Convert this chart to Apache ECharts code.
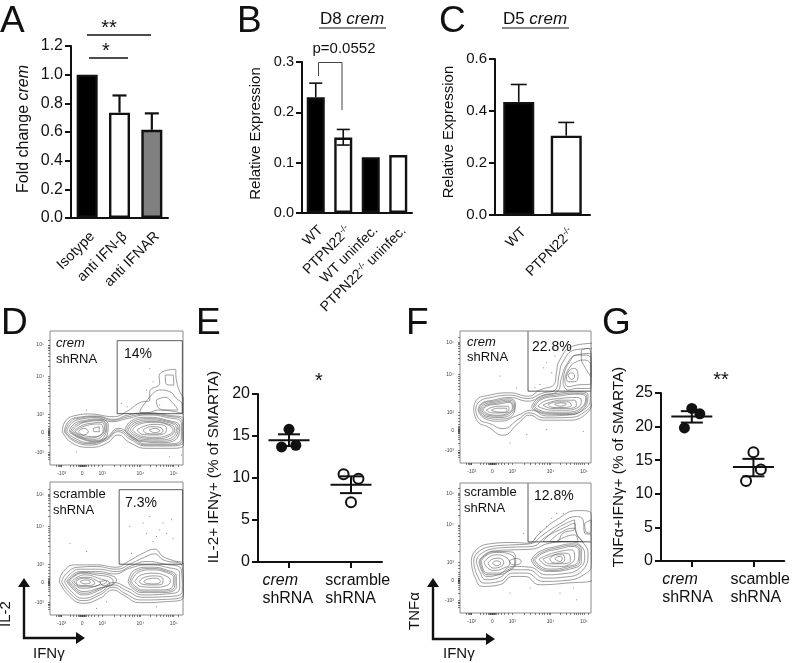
<!DOCTYPE html>
<html>
<head>
<meta charset="utf-8">
<title>crem expression</title>
<script src="https://cdn.jsdelivr.net/npm/echarts@6/dist/echarts.min.js"></script>
<style>
  html, body { margin: 0; padding: 0; background: #fff; }
  #main { width: 793px; height: 663px; }
</style>
</head>
<body>
<div id="main"></div>
<script>
// panel A
var catsA = ['Isotype', 'anti IFN-β', 'anti IFNAR'];
var valsA = [1.0, 0.735, 0.615];
var topsA = [1.0, 0.855, 0.73];

// panel B
var catsB = ['WT', 'PTPN22-/-', 'WT uninfec.', 'PTPN22-/- uninfec.'];
var valsB = [0.23, 0.15, 0.111, 0.115];
var topsB = [0.258, 0.166, 0.111, 0.115];
var lowsB = [0.23, 0.135, 0.111, 0.115];

// panel C
var catsC = ['WT', 'PTPN22-/-'];
var valsC = [0.435, 0.305];
var topsC = [0.502, 0.356];

// panel E: x slot (jitter around group), percent
var creamE = [[1.0, 15.8], [0.88, 13.7], [1.11, 13.9]];
var scrambleE = [[1.88, 10.45], [2.12, 9.9], [2.0, 7.1]];
var sumE = [[1, 14.5, 13.8, 15.2], [2, 9.2, 8.2, 10.2]];
var groupsE = ['crem', 'scramble'];

// panel G
var creamG = [[1.0, 22.7], [1.13, 21.9], [0.88, 19.8]];
var scrambleG = [[2.0, 16.2], [2.12, 13.6], [1.88, 11.9]];
var sumG = [[1, 21.5, 20.6, 22.3], [2, 14, 12.6, 15.2]];
var groupsG = ['crem', 'scamble'];

// flow plots, contours in display channels (x1,y1,x2,y2,...)
var contoursD1 = [
  [37,100,45,130,75,148,120,153,190,145,230,160,270,187,300,195,300,220,330,245,328,265,355,285,377,287,380,255,390,220,402,195,402,60,360,50,290,50,240,67,205,90,170,65,120,53,65,67],
  [347,270,370,270,372,240,355,240,347,255],
  [305,210,330,225,360,220,380,200,398,180,398,155,330,165,290,157,270,160],
  [320,195,345,203,370,185,385,165,350,165,325,173],
  [43,100,55,130,85,143,140,147,190,137,235,150,290,157,350,150,402,135,402,70,350,57,290,57,245,75,205,100,170,75,120,60,70,73],
  [50,100,65,125,95,138,140,142,185,130,235,140,290,150,350,143,395,125,395,80,350,63,290,63,250,83,205,110,170,83,120,67,75,80],
  [46,100,60,128,90,141,140,145,188,134,235,145,290,153,350,147,398,130,398,75,350,60,290,60,247,79,205,105,170,79,120,64,72,76],
  [57,100,72,123,100,133,145,138,175,120,172,90,140,70,90,80],
  [61,100,78,121,108,131,148,135,171,117,166,90,135,73,90,82],
  [65,100,85,120,115,130,150,133,168,115,160,90,130,77,90,85],
  [70,100,95,118,130,126,155,128,164,110,148,87,115,81,92,87],
  [75,100,105,117,150,123,160,105,135,85,95,90],
  [85,100,102,110,115,100,100,90],
  [130,110,148,115,148,100,132,100],
  [225,105,245,133,290,143,350,135,390,115,385,85,340,67,280,70,245,83],
  [230,105,250,130,295,139,350,132,385,112,380,87,335,71,280,73,247,86],
  [235,105,255,127,300,135,350,129,380,110,375,90,330,75,280,77,250,90],
  [241,105,262,125,305,131,352,124,375,107,365,90,322,79,277,82],
  [248,105,270,123,310,128,355,120,370,105,355,90,315,83,275,87],
  [262,105,285,117,320,122,350,110,345,95,310,90,275,93],
  [280,105,305,115,330,113,340,103,320,93,290,95],
  [298,105,315,110,330,103,315,97]
];
var contoursD2 = [
  [28,100,40,130,75,150,140,150,200,143,235,160,280,185,315,197,340,175,370,163,402,150,402,55,350,40,270,37,220,60,190,75,150,50,100,35,55,60],
  [35,100,50,125,85,143,140,145,200,137,245,155,285,173,315,183,340,165,398,145,402,65,350,47,275,45,225,65,190,83,150,60,100,43,60,65],
  [43,100,60,122,90,137,145,137,200,130,245,147,290,160,340,153,395,135,398,73,350,55,280,53,230,73,190,90,150,67,100,50,65,70],
  [50,100,68,120,95,130,145,130,195,123,240,140,295,150,350,143,390,125,390,80,350,63,280,60,235,80,190,97,150,75,100,60,70,77],
  [54,100,72,118,98,127,142,125,190,116,200,105,147,78,100,65,72,80],
  [58,100,75,117,100,125,140,120,185,110,190,95,145,80,100,70,75,83],
  [65,100,85,115,110,120,145,110,170,100,140,87,100,80,78,87],
  [72,100,92,112,115,113,140,103,152,96,122,85,92,85],
  [78,100,100,110,125,105,135,95,105,88,85,90],
  [90,100,108,105,122,98,105,93],
  [150,100,170,103,180,93,160,88],
  [235,100,255,135,300,143,350,135,380,115,380,85,340,67,280,67,245,83],
  [240,100,260,131,302,139,350,131,376,112,375,86,335,71,280,71,250,85],
  [245,100,265,127,305,135,350,127,372,110,370,87,330,75,280,75,255,87],
  [255,100,275,120,310,125,348,117,362,103,350,88,315,83,275,85],
  [268,100,285,113,315,117,340,107,338,93,305,90,278,92],
  [282,100,300,109,320,110,332,100,312,93,290,95]
];
var contoursF1 = [
  [41,158,49,188,89,203,149,210,204,200,239,218,284,238,289,268,299,308,339,350,397,358,397,198,379,148,319,128,249,128,209,143,174,118,129,83,84,108,54,123],
  [47,158,57,183,94,196,149,203,204,193,244,208,289,223,297,263,309,303,344,338,397,343,397,193,374,153,319,136,254,135,209,150,174,130,129,103,89,118,59,130],
  [54,158,64,178,99,188,149,196,204,185,249,203,294,216,304,253,319,293,349,323,393,328,391,193,369,158,317,143,259,141,214,158,174,143,119,125,74,133],
  [57,158,66,176,101,185,149,192,166,178,162,150,119,131,76,137],
  [61,158,69,173,104,182,149,188,164,173,159,153,119,136,79,140],
  [65,158,74,171,109,179,149,184,160,170,154,153,116,140,80,144],
  [69,158,79,170,114,176,149,181,157,168,149,153,114,143,81,148],
  [79,158,94,166,124,170,144,170,147,160,129,150,99,150],
  [94,158,114,164,139,164,141,156,119,152],
  [214,166,234,193,289,208,354,213,384,203,374,166,324,145,264,146,234,153],
  [219,167,239,191,291,204,354,209,380,200,369,166,321,148,266,149,236,155],
  [224,168,244,190,294,200,354,206,377,196,364,166,319,152,269,152,239,158],
  [234,170,254,185,299,193,349,196,364,188,354,166,314,158,274,158],
  [249,173,274,183,309,188,344,188,349,173,319,163,279,163],
  [264,175,294,183,324,183,334,173,309,166,279,166],
  [284,176,304,180,319,176,299,170],
  [309,238,314,273,329,303,349,323,379,323,393,308,393,223,349,223,324,218],
  [314,248,324,278,349,303,374,308,393,288,393,238,349,233,324,228],
  [319,258,329,278,344,283,354,258,344,243,324,243],
  [324,263,334,270,344,260,334,250],
  [364,338,384,343,393,318,393,258,374,288,364,313]
];
var contoursF2 = [
  [34,155,44,185,89,208,159,212,204,210,239,240,289,280,354,308,393,300,397,100,319,90,239,85,194,110,159,110,119,85,69,80,44,110],
  [41,155,51,180,94,200,159,205,209,208,249,235,299,268,349,290,369,280,374,240,393,235,394,145,379,120,319,98,249,95,199,120,159,120,119,95,74,90,51,115],
  [49,155,59,175,99,193,159,198,214,200,259,230,309,255,344,270,349,240,367,215,384,180,369,130,314,108,254,105,204,130,159,130,114,105,79,100,59,125],
  [57,155,69,172,104,187,159,190,214,192,269,210,329,215,364,200,374,170,359,135,309,118,259,115,209,138,159,140,114,115,81,110,64,130],
  [60,155,73,172,106,185,157,183,167,150,147,127,109,115,81,115],
  [64,155,77,172,109,182,154,175,164,150,144,130,109,120,81,120],
  [72,152,87,168,111,175,141,165,149,148,131,135,104,128,87,132],
  [84,150,99,163,117,165,131,152,119,138,99,135],
  [97,150,109,157,122,150,111,142],
  [149,158,169,164,184,155,169,145,154,147],
  [214,160,239,185,289,200,339,208,364,190,364,155,329,132,269,125,229,138],
  [219,160,244,182,291,196,339,204,360,187,359,155,326,136,271,128,234,140],
  [224,160,249,180,294,192,339,200,357,185,354,155,324,140,274,132,239,142],
  [237,162,264,175,299,185,334,190,344,170,334,150,299,140,264,142],
  [249,162,274,172,309,180,329,175,331,158,304,148,269,148],
  [269,163,289,175,309,175,314,160,297,150,277,152],
  [284,163,297,170,307,165,299,155],
  [249,215,279,245,319,270,344,280,344,255,309,240,289,215],
  [269,215,299,240,339,255,354,230,369,215],
  [289,215,319,230,344,235,354,215],
  [374,270,393,280,393,240,377,245]
];
var gateD1 = [[202,154],[202,373],[398,373],[398,154],[202,154]];
var gateD2 = [[208,152],[208,375],[399,375],[399,152],[208,152]];
var gateF1 = [[204,394],[204,215],[392,215]];
var gateF2 = [[204,390],[204,214],[392,214]];
var dotsD1 = [[215,185],[232,175],[300,290],[310,250],[330,180],[290,225],[110,165],[395,30],[360,25],[80,40],[385,110]];
var dotsD2 = [[320,235],[340,275],[365,285],[290,245],[310,220],[280,275],[350,245],[370,230],[330,255],[245,185],[300,295],[240,265],[60,215],[110,190],[170,40],[320,25],[140,20]];
var dotsF1 = [[250,285],[260,300],[275,270],[285,320],[240,235],[225,225],[170,225],[150,60],[200,85],[260,100],[370,95],[120,260]];
var dotsF2 = [[260,260],[275,285],[290,300],[310,300],[240,245],[225,225],[190,240],[150,60],[210,75],[300,60],[350,40],[340,75]];

var flowTicksX = [18,24,28,31,33,35,60,70,78,84,88,90,92,94,96,97,98,100,102,104,106,110,116,124,134,146,157,192,212,226,237,246,254,261,267,272,302,320,332,342,350,356,362,367,372,385];
var flowTicksY = [18,24,28,31,33,37,60,70,78,84,88,90,92,94,96,97,98,100,102,104,106,110,116,124,134,144,152,186,206,220,231,240,248,255,260,265,295,313,325,335,343,349,354,358,360,375];
var flowLabelsX = {35: '-10³', 97: '0', 157: '10³', 272: '10⁴', 372: '10⁵'};
var flowLabelsY = {37: '-10³', 97: '0', 152: '10³', 265: '10⁴', 360: '10⁵'};

var black = '#111';
var fontName = '"Liberation Sans", Arial, sans-serif';

function pairs(list) {
  var out = [];
  for (var i = 0; i < list.length; i += 2) out.push([list[i], list[i + 1]]);
  out.push([list[0], list[1]]);
  return out;
}

function yStyle(extra) {
  return {
    type: 'value',
    min: extra.min, max: extra.max, interval: extra.interval,
    axisLine: {show: true, lineStyle: {color: black, width: 2}},
    axisTick: {show: true, length: 6, lineStyle: {color: black, width: 2}},
    axisLabel: {color: black, fontSize: extra.fontSize, fontFamily: fontName, margin: 8,
      formatter: extra.formatter},
    splitLine: {show: false},
    name: extra.name,
    nameLocation: 'middle',
    nameGap: extra.nameGap,
    nameRotate: 90,
    nameTextStyle: {color: black, fontFamily: fontName, fontSize: extra.nameSize,
      padding: extra.namePad || 0,
      rich: {i: {fontStyle: 'italic', fontSize: extra.nameSize, fontFamily: fontName, color: black}}},
    gridIndex: extra.grid
  };
}

function catAxis(cats, grid, size, margin) {
  return {
    type: 'category', data: cats, gridIndex: grid,
    axisLine: {lineStyle: {color: black, width: 2}},
    axisTick: {alignWithLabel: true, length: 6, lineStyle: {color: black, width: 2}},
    axisLabel: {
      rotate: 45, interval: 0, color: black, fontSize: size, fontFamily: fontName, margin: margin,
      verticalAlign: 'top',
      formatter: function (v) {
        return v.indexOf('-/-') < 0 ? v : v.replace('-/-', '{s|-/-}');
      },
      rich: {s: {fontSize: size - 5, fontFamily: fontName, color: black, padding: [0, 0, 7, 0]}}
    },
    splitLine: {show: false}
  };
}

// labels sit a little off their ticks in the original, hence the separate label values
function groupAxis(grid, names, labelAt, rich) {
  return {
    type: 'value', gridIndex: grid, min: 0.5, max: 2.5,
    axisLine: {onZero: false, lineStyle: {color: black, width: 2}},
    axisTick: {customValues: [1, 2], length: 6, lineStyle: {color: black, width: 2}},
    axisLabel: {
      customValues: labelAt,
      color: black, margin: 10, fontFamily: fontName, fontSize: 16, lineHeight: 18,
      formatter: function (v) {
        return v < 1.5 ? '{a|' + names[0] + '}\n{b|shRNA}' : '{b|' + names[1] + '}\n{b|shRNA}';
      },
      rich: rich
    },
    splitLine: {show: false}
  };
}

function flowAxes(grid, xmax, ymax) {
  var x = {
    type: 'value', gridIndex: grid, min: 0, max: xmax,
    axisLine: {show: false},
    axisTick: {customValues: flowTicksX, length: 2, lineStyle: {color: '#333', width: 0.6}},
    axisLabel: {customValues: [35, 97, 157, 272, 372], color: '#444', fontSize: 5, fontFamily: fontName, margin: 6,
      formatter: function (v) { return flowLabelsX[v] || ''; }},
    splitLine: {show: false}
  };
  var y = {
    type: 'value', gridIndex: grid, min: 0, max: ymax,
    axisLine: {show: false},
    axisTick: {customValues: flowTicksY, length: 2, lineStyle: {color: '#333', width: 0.6}},
    axisLabel: {customValues: [37, 97, 152, 265, 360], color: '#444', fontSize: 5, fontFamily: fontName, margin: 6,
      formatter: function (v) { return flowLabelsY[v] || ''; }},
    splitLine: {show: false}
  };
  return [x, y];
}

function bars(vals, fills, grid, width) {
  return {
    type: 'bar', xAxisIndex: grid, yAxisIndex: grid, barWidth: width, silent: true,
    data: vals.map(function (v, i) {
      return {value: v, itemStyle: {color: fills[i], borderColor: black, borderWidth: 2.4}};
    }),
    z: 2
  };
}

// error whisker on a bar: [index, low, high]
function whiskers(lows, tops, grid, capHalf, lw) {
  return {
    type: 'custom', xAxisIndex: grid, yAxisIndex: grid, silent: true, z: 3,
    data: tops.map(function (t, i) { return [i, lows[i], t]; }),
    renderItem: function (params, api) {
      var lo = api.coord([api.value(0), api.value(1)]);
      var hi = api.coord([api.value(0), api.value(2)]);
      var kids = [];
      if (api.value(1) === api.value(2)) return {type: 'group', children: kids};
      kids.push({type: 'line', shape: {x1: hi[0], y1: lo[1], x2: hi[0], y2: hi[1]}, style: {stroke: black, lineWidth: lw}});
      kids.push({type: 'line', shape: {x1: hi[0] - capHalf, y1: hi[1], x2: hi[0] + capHalf, y2: hi[1]}, style: {stroke: black, lineWidth: lw}});
      if (grid === 1 && params.dataIndex === 1) {
        kids.push({type: 'line', shape: {x1: lo[0] - capHalf, y1: lo[1], x2: lo[0] + capHalf, y2: lo[1]}, style: {stroke: black, lineWidth: lw}});
      }
      return {type: 'group', children: kids};
    }
  };
}

// mean line with sem caps: [x, mean, low, high]
function meanSem(rows, grid) {
  return {
    type: 'custom', xAxisIndex: grid, yAxisIndex: grid, silent: true, z: 4,
    data: rows,
    renderItem: function (params, api) {
      var x = api.value(0);
      var m = api.coord([x, api.value(1)]);
      var lo = api.coord([x, api.value(2)]);
      var hi = api.coord([x, api.value(3)]);
      var st = {stroke: black, lineWidth: 2};
      return {type: 'group', children: [
        {type: 'line', shape: {x1: m[0] - 20.5, y1: m[1], x2: m[0] + 20.5, y2: m[1]}, style: st},
        {type: 'line', shape: {x1: m[0], y1: lo[1], x2: m[0], y2: hi[1]}, style: st},
        {type: 'line', shape: {x1: m[0] - 11, y1: lo[1], x2: m[0] + 11, y2: lo[1]}, style: st},
        {type: 'line', shape: {x1: m[0] - 11, y1: hi[1], x2: m[0] + 11, y2: hi[1]}, style: st}
      ]};
    }
  };
}

function points(rows, grid, open) {
  return {
    type: 'scatter', xAxisIndex: grid, yAxisIndex: grid, silent: true, z: 3,
    symbolSize: open ? 10 : 11,
    itemStyle: open ? {color: 'rgba(0,0,0,0)', borderColor: black, borderWidth: 2, opacity: 1} : {color: black, opacity: 1},
    data: rows
  };
}

function flowSeries(grid, contours, gate, dots) {
  var out = contours.map(function (c) {
    return {
      type: 'line', xAxisIndex: grid, yAxisIndex: grid, silent: true, symbol: 'none',
      smooth: 0.5, lineStyle: {color: '#5a5a5a', width: 0.6}, data: pairs(c), z: 2
    };
  });
  out.push({
    type: 'line', xAxisIndex: grid, yAxisIndex: grid, silent: true, symbol: 'none',
    lineStyle: {color: '#333', width: 0.8}, data: gate, z: 3
  });
  out.push({
    type: 'scatter', xAxisIndex: grid, yAxisIndex: grid, silent: true, symbolSize: 1,
    itemStyle: {color: '#666', opacity: 1}, data: dots, z: 2
  });
  return out;
}

var boxGrid = {containLabel: false, show: true, borderColor: '#8a8a8a', borderWidth: 1, backgroundColor: 'transparent'};
function flowGrid(left, top, w, h) {
  return Object.assign({left: left, top: top, width: w, height: h}, boxGrid);
}

var groupRich = {
  a: {fontFamily: fontName, fontSize: 16, color: black, align: 'left', fontStyle: 'italic'},
  b: {fontFamily: fontName, fontSize: 16, color: black, align: 'left'}
};

function label(text, x, y, size, extra) {
  return {
    type: 'text', x: x, y: y, rotation: (extra && extra.rotation) || 0, silent: true,
    style: Object.assign({text: text, fill: black, font: size + 'px ' + fontName, align: 'left', verticalAlign: 'middle'}, (extra && extra.style) || {})
  };
}
function stroke(points, width, color) {
  return {type: 'polyline', silent: true, shape: {points: points}, style: {stroke: color || black, lineWidth: width, fill: 'none'}};
}
function head(points) {
  return {type: 'polygon', silent: true, shape: {points: points}, style: {fill: black}};
}
function titleRich(a, b, x, y) {
  return {
    type: 'text', x: x, y: y, silent: true,
    style: {
      text: '{a|' + a + ' }{i|' + b + '}', align: 'center', verticalAlign: 'middle',
      rich: {
        a: {font: '17px ' + fontName, fill: black},
        i: {font: 'italic 17px ' + fontName, fill: black}
      }
    }
  };
}

var graphics = [
  label('A', 0, 22, 37), label('B', 237, 22, 37), label('C', 439, 22, 37),
  label('D', 1, 324, 37), label('E', 196, 324, 37), label('F', 406, 324, 37), label('G', 602, 324, 37),

  // A significance
  stroke([[87, 35], [151, 35]], 1.6),
  stroke([[89, 58], [128, 58]], 1.6),
  label('**', 109, 28, 20, {style: {align: 'center'}}),
  label('*', 106, 51, 20, {style: {align: 'center'}}),

  // B title and bracket
  titleRich('D8', 'crem', 352, 19),
  stroke([[319, 28], [386, 28]], 1),
  label('p=0.0552', 344, 49, 15, {style: {align: 'center'}}),
  stroke([[318.5, 76], [318.5, 62.5], [342, 62.5], [342, 110]], 1, '#444'),

  // C title
  titleRich('D5', 'crem', 535, 19),
  stroke([[502, 28], [569, 28]], 1),

  // flow text
  {type: 'text', x: 56, y: 343, silent: true, style: {text: 'crem', fill: black, font: 'italic 13px ' + fontName, verticalAlign: 'middle'}},
  label('shRNA', 56, 359, 13),
  label('14%', 124, 354, 14),
  label('scramble', 53, 494, 13), label('shRNA', 53, 510, 13), label('7.3%', 125, 503, 14),
  {type: 'text', x: 467, y: 342, silent: true, style: {text: 'crem', fill: black, font: 'italic 13px ' + fontName, verticalAlign: 'middle'}},
  label('shRNA', 467, 357, 13), label('22.8%', 532, 347, 14),
  label('scramble', 464, 492, 13), label('shRNA', 464, 508, 13), label('12.8%', 534, 496, 14),

  // arrows
  stroke([[24, 582], [24, 638], [78, 638]], 2.4),
  head([[24, 578], [18, 587], [30, 587]]), head([[85, 638], [76, 632], [76, 644]]),
  stroke([[433, 582], [433, 639], [488, 639]], 2.4),
  head([[433, 578], [427, 587], [439, 587]]), head([[495, 639], [486, 633], [486, 645]]),
  label('IL-2', 6, 627, 15, {rotation: Math.PI / 2}),
  label('IFNγ', 33, 654, 15),
  label('TNFα', 415, 630, 15, {rotation: Math.PI / 2}),
  label('IFNγ', 443, 654, 15),

  label('*', 319, 381, 20, {style: {align: 'center'}}),
  label('**', 721, 380, 20, {style: {align: 'center'}})
];

var xAxes = [
  catAxis(catsA, 0, 14.5, 11), catAxis(catsB, 1, 14, 10), catAxis(catsC, 2, 14, 10),
  groupAxis(3, groupsE, [0.98, 2.11], groupRich), groupAxis(4, groupsG, [0.93, 2.11], groupRich)
];
var yAxes = [
  yStyle({grid: 0, min: 0, max: 1.2, interval: 0.2, fontSize: 16, name: 'Fold change {i|crem}', nameSize: 16, nameGap: 39, namePad: [0, 0, 0, 6],
    formatter: function (v) { return v.toFixed(1); }}),
  yStyle({grid: 1, min: 0, max: 0.3, interval: 0.1, fontSize: 14.5, name: 'Relative Expression', nameSize: 15, nameGap: 39, namePad: [0, 0, 0, 8],
    formatter: function (v) { return v.toFixed(1); }}),
  yStyle({grid: 2, min: 0, max: 0.6, interval: 0.2, fontSize: 15, name: 'Relative Expression', nameSize: 15, nameGap: 39, namePad: [0, 0, 0, 10],
    formatter: function (v) { return v.toFixed(1); }}),
  yStyle({grid: 3, min: 0, max: 20, interval: 5, fontSize: 16, name: 'IL-2+ IFNγ+ (% of SMARTA)', nameSize: 15.3, nameGap: 37, namePad: [0, 0, 0, 22]}),
  yStyle({grid: 4, min: 0, max: 25, interval: 5, fontSize: 16, name: 'TNFα+IFNγ+ (% of SMARTA)', nameSize: 15.3, nameGap: 35, namePad: [0, 0, 0, 20]})
];
[[5, 400, 402], [6, 400, 398], [7, 393, 395], [8, 393, 391]].forEach(function (f) {
  var pair = flowAxes(f[0], f[1], f[2]);
  xAxes.push(pair[0]);
  yAxes.push(pair[1]);
});

var series = [
  bars(valsA, ['#000', '#fff', '#808080'], 0, 21),
  whiskers(valsA, topsA, 0, 7, 2.2),
  bars(valsB, ['#000', '#fff', '#000', '#fff'], 1, 18),
  whiskers(lowsB, topsB, 1, 6.5, 1.6),
  bars(valsC, ['#000', '#fff'], 2, 31),
  whiskers(valsC, topsC, 2, 8, 1.6),
  points(creamE, 3, false), points(scrambleE, 3, true), meanSem(sumE, 3),
  points(creamG, 4, false), points(scrambleG, 4, true), meanSem(sumG, 4)
].concat(
  flowSeries(5, contoursD1, gateD1, dotsD1),
  flowSeries(6, contoursD2, gateD2, dotsD2),
  flowSeries(7, contoursF1, gateF1, dotsF1),
  flowSeries(8, contoursF2, gateF2, dotsF2)
);

var chart = echarts.init(document.getElementById('main'), null, {renderer: 'canvas'});
chart.setOption({
  animation: false,
  backgroundColor: '#fff',
  textStyle: {fontFamily: fontName},
  grid: [
    {left: 71, top: 46, width: 97, height: 172},
    {left: 302, top: 62, width: 110, height: 151},
    {left: 495, top: 59, width: 95, height: 156},
    {left: 258, top: 394, width: 124, height: 168},
    {left: 661, top: 393, width: 124, height: 168},
    flowGrid(50, 331, 133, 134),
    flowGrid(50, 482, 133, 133),
    flowGrid(460, 331, 131, 132),
    flowGrid(460, 483, 131, 130)
  ],
  xAxis: xAxes,
  yAxis: yAxes,
  series: series,
  graphic: graphics
});
</script>
</body>
</html>
